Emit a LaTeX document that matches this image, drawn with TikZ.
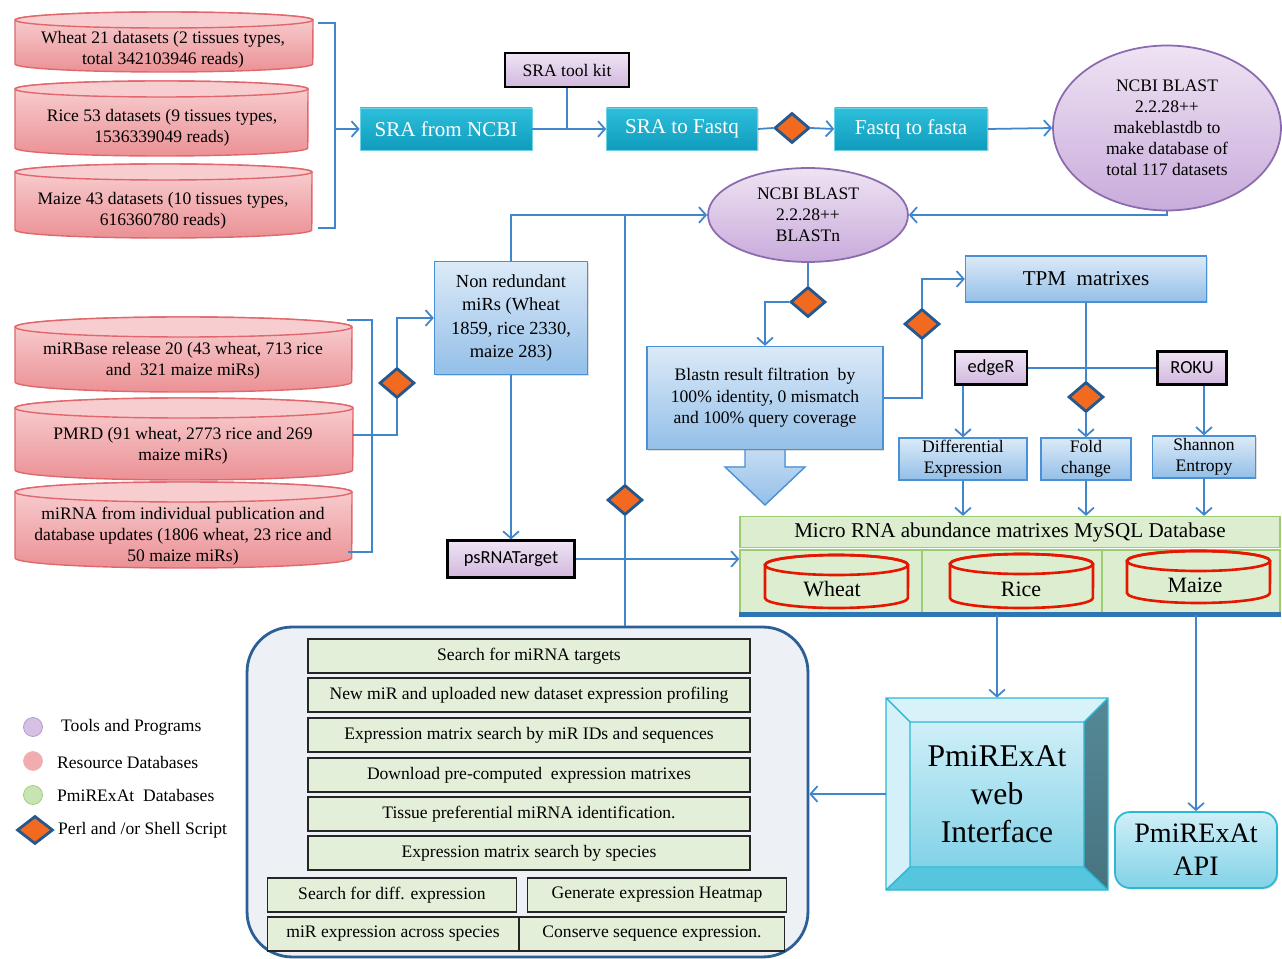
\documentclass[tikz,border=0pt]{standalone}
\usepackage{fontspec}
\setmainfont{Liberation Serif}
\newfontfamily\calibri{Carlito}
\usetikzlibrary{shapes.geometric,arrows.meta,shadows}
\definecolor{linkblue}{HTML}{3F86CC}
\definecolor{tealA}{HTML}{2DBFDB}
\definecolor{tealB}{HTML}{109CBD}
\definecolor{boxA}{HTML}{DCEAF8}
\definecolor{boxB}{HTML}{93BFE8}
\definecolor{boxline}{HTML}{4A90D6}
\definecolor{purA}{HTML}{EFE4F4}
\definecolor{purB}{HTML}{D2B8DE}
\definecolor{ellA}{HTML}{EEE3F3}
\definecolor{ellB}{HTML}{C9ABDB}
\definecolor{ellline}{HTML}{8A6BB0}
\definecolor{pinkA}{HTML}{F9D2D4}
\definecolor{pinkB}{HTML}{EB9195}
\definecolor{pinkC}{HTML}{F8CDD0}
\definecolor{pinkline}{HTML}{E2676C}
\definecolor{perlorange}{HTML}{F26A1F}
\definecolor{perlblue}{HTML}{24588F}
\definecolor{cellgreen}{HTML}{DCEECF}
\definecolor{greenline}{HTML}{9CCC72}
\definecolor{featgreen}{HTML}{E3EFD9}
\definecolor{panelgray}{HTML}{EDF0F4}
\definecolor{panelline}{HTML}{2B5F96}
\definecolor{dbblue}{HTML}{2E75B6}
\definecolor{webA}{HTML}{CFEFF8}
\definecolor{webB}{HTML}{82D2E7}
\definecolor{webline}{HTML}{2BB8D4}
\begin{document}
\begin{tikzpicture}[x=0.02cm,y=-0.02cm,
    font=\fontsize{10}{12}\selectfont,
    conn/.style={draw=linkblue,line width=1pt},
    conarr/.style={conn,-{Straight Barb[length=4pt,width=9pt]}},
    tealbox/.style={top color=tealA,bottom color=tealB,draw=tealA!70!white,text=white,
        font=\fontsize{12}{14}\selectfont,minimum height=0.84cm,
        drop shadow={opacity=0.25,shadow xshift=0.8pt,shadow yshift=-0.8pt}},
    bluebox/.style={top color=boxA,bottom color=boxB,draw=boxline,line width=0.8pt,align=center,
        drop shadow={opacity=0.25,shadow xshift=0.8pt,shadow yshift=-0.8pt}},
    toolbox/.style={top color=purA,bottom color=purB,draw=black,line width=1.2pt,
        drop shadow={opacity=0.3,shadow xshift=0.8pt,shadow yshift=-0.8pt}},
    prog/.style={ellipse,top color=ellA,bottom color=ellB,draw=ellline,line width=1pt,
        align=center,inner sep=0pt},
    perlbox/.style={diamond,fill=perlorange,draw=perlblue,line width=1.6pt,
        minimum width=0.7cm,minimum height=0.6cm,inner sep=0pt},
    dbcell/.style={fill=cellgreen,draw=greenline,line width=0.8pt,minimum height=1.28cm},
    feat/.style={fill=featgreen,draw=black!85,line width=0.8pt,minimum height=0.68cm}]
\useasboundingbox (0,0) rectangle (1282,959);

% resource databases
\foreach \xa/\ya/\xb/\yb/\e in {15/12/313/72/8,15/81/308/156/8,15/164/312/238/8,15/317/352/392/10,15/398/353/480/10,15/482/352/568/10}
{
    \path[top color=pinkA,bottom color=pinkB,draw=pinkline,line width=0.8pt] (\xa,\ya+\e) -- (\xa,\yb-\e)
        arc[start angle=180,end angle=360,x radius={(\xb-\xa)*0.01cm},y radius=\e*0.02cm] -- (\xb,\ya+\e)
        arc[start angle=0,end angle=180,x radius={(\xb-\xa)*0.01cm},y radius=\e*0.02cm] -- cycle;
    \path[fill=pinkC,draw=pinkline,line width=0.8pt] ({(\xa+\xb)/2},\ya+\e) ellipse[x radius={(\xb-\xa)*0.01cm},y radius=\e*0.02cm];
}
\node[align=center] (wheatsets) at (163,50) {Wheat 21 datasets (2 tissues types,\\total 342103946 reads)};
\node[align=center] (ricesets) at (162,128) {Rice 53 datasets (9 tissues types,\\1536339049 reads)};
\node[align=center] (maizesets) at (163,211) {Maize 43 datasets (10 tissues types,\\616360780 reads)};
\node[align=center] (mirbase) at (183,361) {miRBase release 20 (43 wheat, 713 rice\\and\ \ 321 maize miRs)};
\node[align=center] (pmrd) at (183,446) {PMRD (91 wheat, 2773 rice and 269\\maize miRs)};
\node[align=center] (mirpub) at (183,536) {miRNA from individual publication and\\database updates (1806 wheat, 23 rice and\\50 maize miRs)};

% top row
\node[tealbox,minimum width=3.44cm] (sra) at (446,129) {SRA from NCBI};
\node[toolbox,minimum width=2.48cm,minimum height=0.68cm] (kit) at (567,70) {SRA tool kit};
\node[tealbox,minimum width=3.02cm] (fastq) at (682,129) {SRA to Fastq};
\node[perlbox] (dA) at (792,128) {};
\node[tealbox,minimum width=3.06cm] (fasta) at (911,129) {Fastq to fasta};
\node[prog,minimum width=4.56cm,minimum height=3.3cm] (mkdb) at (1167,128) {NCBI BLAST\\2.2.28++\\makeblastdb to\\make database of\\total 117 datasets};
\node[prog,minimum width=4cm,minimum height=1.88cm] (blastn) at (808,215) {NCBI BLAST\\2.2.28++\\BLASTn};

% middle
\node[bluebox,minimum width=3.06cm,minimum height=2.26cm,font=\fontsize{10.5}{13.2}\selectfont] (nonred) at (511,318) {Non redundant\\miRs (Wheat\\1859, rice 2330,\\maize 283)};
\node[perlbox] (dB) at (397,383) {};
\node[toolbox,minimum width=2.54cm,minimum height=0.74cm,font=\calibri\fontsize{10.5}{12}\selectfont] (psrna) at (511,559) {psRNATarget};
\node[perlbox] (dC) at (625,500) {};
\node[perlbox] (dD) at (808,302) {};
\filldraw[top color=boxA!80!boxB,bottom color=boxB,draw=boxline,line width=0.8pt] (745,440) -- (745,467) -- (725,467) -- (765,505) -- (805,467) -- (785,467) -- (785,440);
\node[bluebox,minimum width=4.72cm,minimum height=2.06cm,font=\fontsize{10}{12.3}\selectfont] (filt) at (765,398) {Blastn result filtration\ \ by\\100\% identity, 0 mismatch\\and 100\% query coverage};
\node[perlbox] (dE) at (922,324) {};
\node[bluebox,minimum width=4.82cm,minimum height=0.92cm,font=\fontsize{12}{14}\selectfont] (tpm) at (1086,279) {TPM\ \ matrixes};
\node[toolbox,minimum width=1.44cm,minimum height=0.66cm,font=\calibri\fontsize{10.5}{12}\selectfont] (edger) at (991,368) {edgeR};
\node[toolbox,minimum width=1.38cm,minimum height=0.66cm,font=\calibri\fontsize{10.5}{12}\selectfont] (roku) at (1192,368) {ROKU};
\node[perlbox] (dF) at (1086,397) {};
\node[bluebox,minimum width=2.56cm,minimum height=0.84cm,inner sep=1pt] (diffexp) at (963,459) {Differential\\Expression};
\node[bluebox,minimum width=1.8cm,minimum height=0.84cm,inner sep=1pt] (fold) at (1086,459) {Fold\\change};
\node[bluebox,minimum width=2.06cm,minimum height=0.84cm,inner sep=1pt] (shannon) at (1204,457) {Shannon\\Entropy};

% PmiRExAt databases
\node[dbcell,minimum width=10.8cm,minimum height=0.6cm,font=\fontsize{12}{14}\selectfont] (mysql) at (1010,532) {Micro RNA abundance matrixes MySQL Database};
\node[dbcell,minimum width=3.64cm] (cellW) at (831,582) {};
\node[dbcell,minimum width=3.6cm] (cellR) at (1012,582) {};
\node[dbcell,minimum width=3.56cm] (cellM) at (1191,582) {};
\draw[dbblue,line width=3pt] (cellW.south west) -- (cellM.south east);
\foreach \xa/\ya/\xb/\yb in {765/555/908/608,950/554/1093/608,1127/551/1270/603}
{
    \path[draw=red!80!orange!90!black,line width=1.5pt] (\xa,\ya+10) -- (\xa,\yb-10)
        arc[start angle=180,end angle=360,x radius={(\xb-\xa)*0.01cm},y radius=0.2cm] -- (\xb,\ya+10)
        arc[start angle=0,end angle=180,x radius={(\xb-\xa)*0.01cm},y radius=0.2cm] -- cycle;
    \draw[red!80!orange!90!black,line width=1.5pt] ({(\xa+\xb)/2},\ya+10) ellipse[x radius={(\xb-\xa)*0.01cm},y radius=0.2cm];
}
\node[font=\fontsize{12.5}{14}\selectfont] (txW) at (832,589) {Wheat};
\node[font=\fontsize{12.5}{14}\selectfont] (txR) at (1021,589) {Rice};
\node[font=\fontsize{12.5}{14}\selectfont] (txM) at (1195,585) {Maize};

% web interface and api
\fill[webA!80!white] (886,698) -- (1108,698) -- (1084,722) -- (910,722) -- cycle;
\fill[webA!90!white] (886,698) -- (910,722) -- (910,867) -- (886,890) -- cycle;
\shade[top color=black!35!webB,bottom color=black!45!webB] (1108,698) -- (1108,890) -- (1084,867) -- (1084,722) -- cycle;
\fill[webline!80!white] (886,890) -- (1108,890) -- (1084,867) -- (910,867) -- cycle;
\shade[top color=webA,bottom color=webB] (910,722) rectangle (1084,867);
\draw[webline,line width=0.8pt] (886,698) rectangle (1108,890) (910,722) rectangle (1084,867)
    (886,698) -- (910,722) (1108,698) -- (1084,722) (886,890) -- (910,867) (1108,890) -- (1084,867);
\node[align=center,font=\fontsize{18}{21.5}\selectfont,minimum width=4.44cm,minimum height=3.84cm] (web) at (997,794) {PmiRExAt\\web\\Interface};
\node[top color=webA,bottom color=webB,draw=webline,line width=1pt,rounded corners=0.3cm,align=center,
    font=\fontsize{16}{18.7}\selectfont,minimum width=3.24cm,minimum height=1.52cm,
    drop shadow={opacity=0.25,shadow xshift=0.8pt,shadow yshift=-0.8pt}] (api) at (1196,850) {PmiRExAt\\API};

% web features
\node[fill=panelgray,draw=panelline,line width=1.6pt,rounded corners=0.9cm,minimum width=11.22cm,minimum height=6.6cm] (panel) at (527.5,792) {};
\foreach \y/\t [count=\i] in {656/Search for miRNA targets,695/New miR and uploaded new dataset expression profiling,735/Expression matrix search by miR IDs and sequences,775/Download pre-computed\ \ expression matrixes,814/Tissue preferential miRNA identification.,853/Expression matrix search by species}
    \node[feat,minimum width=8.84cm] (feat\i) at (529,\y) {\t};
\node[feat,minimum width=4.98cm] (feat7) at (392,895) {Search for diff. expression};
\node[feat,minimum width=5.18cm] (feat8) at (657,895) {Generate expression Heatmap};
\node[feat,minimum width=5.02cm] (feat9) at (393,934) {miR expression across species};
\node[feat,minimum width=5.3cm] (feat10) at (652,934) {Conserve sequence expression.};

% legend
\node[circle,minimum size=0.38cm,inner sep=0pt,fill=ellB!75!white,draw=ellline!70!white] (legA) at (33,727) {};
\node[circle,minimum size=0.38cm,inner sep=0pt,fill=pinkB!75!white,draw=pinkline!50!white] (legB) at (33,761) {};
\node[circle,minimum size=0.38cm,inner sep=0pt,fill=cellgreen!70!greenline,draw=greenline] (legC) at (33,795) {};
\node[perlbox,minimum width=0.72cm,minimum height=0.56cm] (legD) at (35,830) {};
\node[anchor=west] (legtA) at (55,727) {Tools and Programs};
\node[anchor=west] (legtB) at (51,762) {Resource Databases};
\node[anchor=west] (legtC) at (51,795) {PmiRExAt\ \ Databases};
\node[anchor=west] (legtD) at (52,830) {Perl and /or Shell Script};

% connectors
\draw[conn] (318,23) -- (335,23) -- (335,228) -- (318,228);
\coordinate (brA) at (335,129);
\draw[conarr] (brA) -- (sra.west);
\draw[conn] (kit.south) -- (kit.south |- sra.east);
\draw[conarr] (sra.east) -- (fastq.west);
\draw[conn] (fastq.east) -- (dA.west);
\draw[conarr] (dA.east) -- (fasta.west);
\draw[conarr] (fasta.east) -- (mkdb.west);
\draw[conarr] (mkdb.south) |- (blastn.east);
\draw[conarr] (nonred.north) |- (blastn.west);
\draw[conn] (dC |- blastn.west) -- (dC.north);
\draw[conn] (dC.south) -- (dC |- panel.north);
\draw[conn] (blastn.south) -- (dD.north);
\draw[conarr] (dD.west) -| (filt.north);
\draw[conn] (filt.east) -| (dE.south);
\draw[conarr] (dE.north) |- (tpm.west);
\draw[conn] (tpm.south) -- (dF.north);
\draw[conarr] (dF.south) -- (fold.north);
\draw[conn] (edger.east) -- (roku.west);
\draw[conarr] (diffexp.north |- edger.south) -- (diffexp.north);
\draw[conarr] (shannon.north |- roku.south) -- (shannon.north);
\foreach \n in {diffexp,fold,shannon}
    \draw[conarr] (\n.south) -- (\n.south |- mysql.north);
\draw[conn] (347,320) -- (372,320) -- (372,552) -- (348,552);
\draw[conn] (353,435) -| (dB.south);
\draw[conarr] (dB.north) |- (nonred.west);
\draw[conarr] (nonred.south) -- (psrna.north);
\draw[conarr] (psrna.east) -- (psrna.east -| cellW.west);
\draw[conarr] (web.north |- cellR.south) -- (web.north);
\draw[conarr] (api.north |- cellM.south) -- (api.north);
\draw[conarr] (web.west) -- (web.west -| panel.east);
\end{tikzpicture}
\end{document}
